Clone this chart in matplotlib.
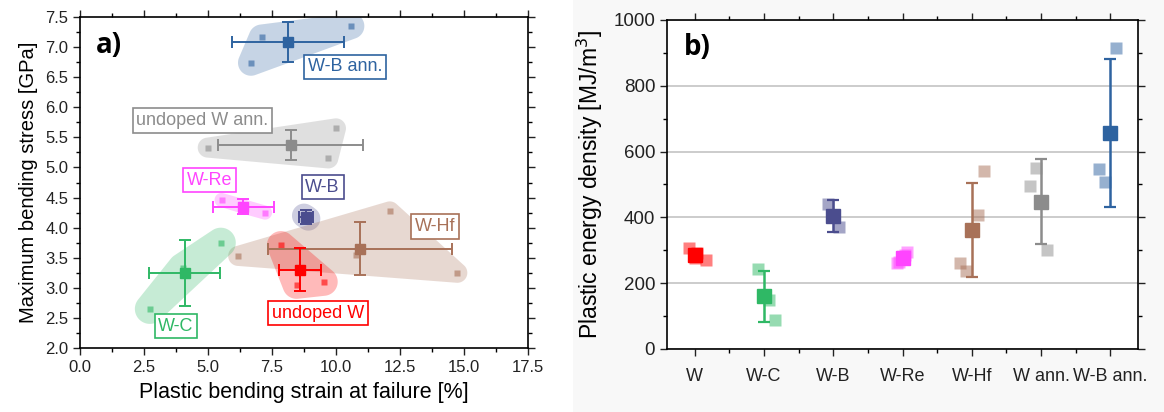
import numpy as np
import matplotlib
matplotlib.use('Agg')
import matplotlib.pyplot as plt
from matplotlib.patches import Polygon, Rectangle
from matplotlib.ticker import MultipleLocator

plt.rcParams['font.family'] = ['Liberation Sans', 'DejaVu Sans']

# ---- panel a) data: strain [%] vs stress [GPa]
groups_a = ['W-B ann.', 'undoped W ann.', 'W-Re', 'W-B', 'W-Hf', 'undoped W', 'W-C']
colors_a = ['#2e63a0', '#8c8c8c', '#ff44ff', '#4b4d8e', '#a87158', '#ff0000', '#2fb865']
mean_strain = [8.13, 8.23, 6.38, 8.83, 10.94, 8.59, 4.09]
err_strain = [2.20, 2.82, 1.18, 0.28, 3.58, 0.83, 1.38]
mean_stress = [7.08, 5.37, 4.35, 4.18, 3.65, 3.30, 3.24]
err_stress = [0.33, 0.25, 0.13, 0.12, 0.44, 0.36, 0.55]
pts_strain = [[7.10, 6.68, 10.6], [4.99, 10.0, 9.70], [5.53, 7.23], [8.75, 8.92],
              [6.18, 12.1, 14.74, 10.8], [7.85, 9.52, 8.46], [5.50, 2.73, 4.01]]
pts_stress = [[7.16, 6.74, 7.35], [5.33, 5.65, 5.15], [4.46, 4.25], [4.20, 4.15],
              [3.53, 4.27, 3.25, 3.55], [3.71, 3.10, 3.05], [3.75, 2.65, 3.33]]
label_xy = [(10.35, 6.67), (4.78, 5.78), (5.05, 4.79), (9.48, 4.67),
            (13.87, 4.02), (9.30, 2.58), (3.75, 2.36)]
blob_pad = [13, 10, 7, 12, 10, 14, 15]

# ---- panel b) data: plastic energy density [MJ/m^3]
groups_b = ['W', 'W-C', 'W-B', 'W-Re', 'W-Hf', 'W ann.', 'W-B ann.']
colors_b = ['#ff0000', '#2fb865', '#4b4d8e', '#ff44ff', '#a87158', '#8c8c8c', '#2e63a0']
mean_energy = [285, 160, 404, 277, 362, 448, 657]
err_energy = [12, 77, 49, 18, 142, 130, 225]
pts_energy = [[308, 291, 278, 270], [242, 149, 88], [440, 370], [296, 285, 265, 260],
              [407, 262, 237, 542], [496, 301, 549], [914, 546, 508]]
pts_offset = [[-0.08, 0.03, 0.0, 0.16], [-0.09, 0.08, 0.16], [-0.08, 0.08],
              [0.07, 0.03, -0.05, -0.08], [0.09, -0.17, -0.08, 0.17],
              [-0.16, 0.09, -0.08], [0.08, -0.17, -0.08]]


def convex_hull(points):
    pts = sorted(set(map(tuple, np.round(points, 4))))
    def cross(o, a, b):
        return (a[0] - o[0]) * (b[1] - o[1]) - (a[1] - o[1]) * (b[0] - o[0])
    lower, upper = [], []
    for p in pts:
        while len(lower) >= 2 and cross(lower[-2], lower[-1], p) <= 0:
            lower.pop()
        lower.append(p)
    for p in reversed(pts):
        while len(upper) >= 2 and cross(upper[-2], upper[-1], p) <= 0:
            upper.pop()
        upper.append(p)
    return np.array(lower[:-1] + upper[:-1])


# rounded hull around the points, padded in pixel space
def blob(ax, xs, ys, color, pad, alpha):
    disp = ax.transData.transform(np.column_stack([xs, ys]))
    ang = np.linspace(0, 2 * np.pi, 90, endpoint=False)
    circ = np.column_stack([np.cos(ang), np.sin(ang)]) * pad
    ring = np.concatenate([d + circ for d in disp])
    hull = ax.transData.inverted().transform(convex_hull(ring))
    ax.add_patch(Polygon(hull, closed=True, fc=color, ec='none', alpha=alpha, zorder=1))


def style_ticks(ax):
    ax.tick_params(which='both', direction='out', top=True, right=True,
                   labeltop=False, labelright=False, width=1.0)
    ax.tick_params(which='major', length=5)
    ax.tick_params(which='minor', length=3)
    for s in ax.spines.values():
        s.set_linewidth(1.2)


fig = plt.figure(figsize=(11.64, 4.12), dpi=100)
fig.patches.append(Rectangle((0.492, 0), 0.508, 1, transform=fig.transFigure,
                             fc='#f8f8f8', ec='none', zorder=-10))

# ---------------- a)
ax1 = fig.add_axes([0.0687, 0.1553, 0.3849, 0.8034])
ax1.set_xlim(0, 17.5)
ax1.set_ylim(2.0, 7.5)
ax1.xaxis.set_major_locator(MultipleLocator(2.5))
ax1.xaxis.set_minor_locator(MultipleLocator(1.25))
ax1.yaxis.set_major_locator(MultipleLocator(0.5))
ax1.yaxis.set_minor_locator(MultipleLocator(0.25))
ax1.xaxis.set_major_formatter(matplotlib.ticker.FormatStrFormatter('%.1f'))
ax1.yaxis.set_major_formatter(matplotlib.ticker.FormatStrFormatter('%.1f'))
style_ticks(ax1)
ax1.tick_params(labelsize=12, colors='#222222')
ax1.set_xlabel('Plastic bending strain at failure [%]', fontsize=15.5, labelpad=5)
ax1.set_ylabel('Maximum bending stress [GPa]', fontsize=14.5, labelpad=5)

for i, g in enumerate(groups_a):
    c = colors_a[i]
    xs = pts_strain[i] + [mean_strain[i]]
    ys = pts_stress[i] + [mean_stress[i]]
    blob(ax1, xs, ys, c, blob_pad[i], 0.27)
    ax1.plot(pts_strain[i], pts_stress[i], 's', ms=4.5, color=c, alpha=0.6,
             mec='none', zorder=2)
    ax1.errorbar(mean_strain[i], mean_stress[i], xerr=err_strain[i], yerr=err_stress[i],
                 fmt='s', ms=6.5, color=c, ecolor=c, elinewidth=1.4, capsize=4,
                 capthick=1.4, zorder=3)
    ax1.text(label_xy[i][0], label_xy[i][1], g, color=c, fontsize=13,
             ha='center', va='center', zorder=4,
             bbox=dict(boxstyle='square,pad=0.2', fc='white', ec=c, lw=1.2))

ax1.text(0.035, 0.915, 'a)', transform=ax1.transAxes, fontsize=20,
         fontweight='bold', family=['Open Sans', 'DejaVu Sans'], va='center')

# ---------------- b)
ax2 = fig.add_axes([0.573, 0.153, 0.4047, 0.7985])
pos = np.arange(1, len(groups_b) + 1)
ax2.set_xlim(0.6, 7.4)
ax2.set_ylim(0, 1000)
ax2.set_xticks(pos)
ax2.set_xticklabels(groups_b)
ax2.set_xticks(pos[:-1] + 0.5, minor=True)
ax2.yaxis.set_major_locator(MultipleLocator(200))
ax2.yaxis.set_minor_locator(MultipleLocator(100))
style_ticks(ax2)
ax2.tick_params(axis='x', labelsize=13, pad=9, colors='#222222')
ax2.tick_params(axis='y', labelsize=13.5, colors='#222222')
ax2.set_facecolor('white')
ax2.grid(axis='y', which='major', color='#c4c4c4', lw=1.2)
ax2.set_axisbelow(True)
ax2.set_ylabel('Plastic energy density [MJ/m$^3$]', fontsize=16.5, labelpad=6)

for i, g in enumerate(groups_b):
    c = colors_b[i]
    ax2.plot(pos[i] + np.array(pts_offset[i]), pts_energy[i], 's', ms=8, color=c,
             alpha=0.5, mec='none', zorder=2)
    ax2.errorbar(pos[i], mean_energy[i], yerr=err_energy[i], fmt='s', ms=9.5,
                 color=c, ecolor=c, elinewidth=1.8, capsize=4.5, capthick=1.6, zorder=3)

ax2.text(0.035, 0.915, 'b)', transform=ax2.transAxes, fontsize=20,
         fontweight='bold', family=['Open Sans', 'DejaVu Sans'], va='center')

fig.savefig('out.png', dpi=100)
